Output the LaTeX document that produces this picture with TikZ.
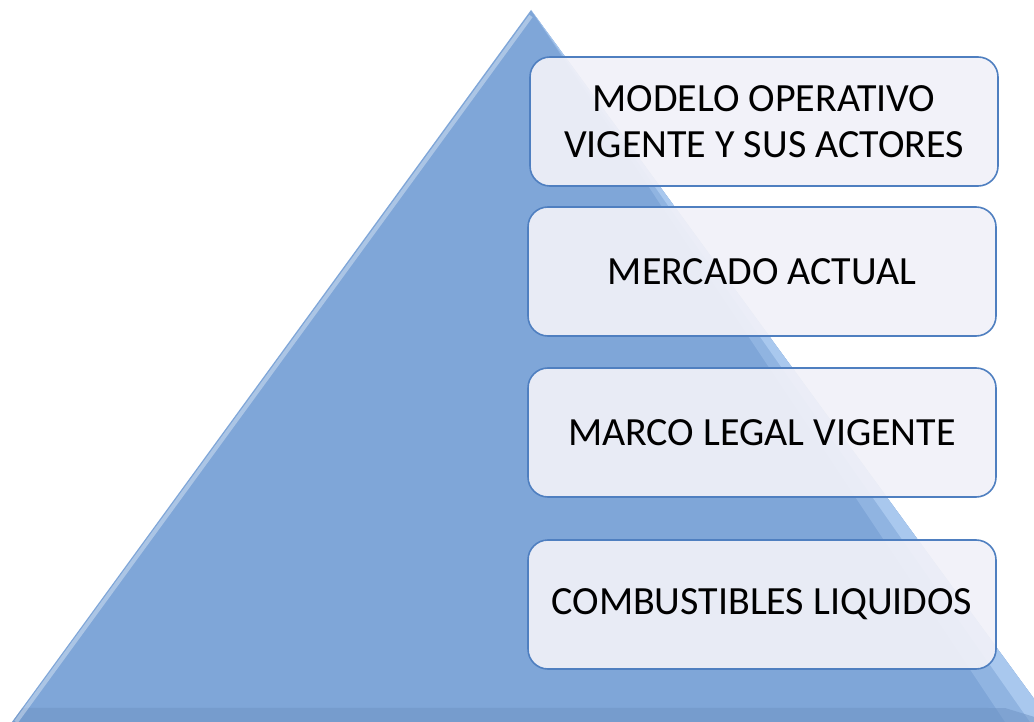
\documentclass[tikz,border=0pt]{standalone}
\usepackage{fontspec}
\setmainfont{Carlito}
\usetikzlibrary{calc}
\definecolor{piramide}{HTML}{7FA6D8}
\definecolor{piramideclaro}{HTML}{A9C8EE}
\definecolor{piramideoscuro}{HTML}{6F93C4}
\definecolor{borde}{HTML}{4F7FC0}
\definecolor{relleno}{HTML}{F1F1F8}
\tikzset{
  capa/.style={draw=borde, line width=1.6pt, fill=relleno, fill opacity=0.92, text opacity=1,
    rounded corners=20pt, minimum width=468pt, minimum height=129pt, align=center,
    font=\fontsize{40}{46}\selectfont}
}
\begin{document}
\begin{tikzpicture}[x=1pt,y=-1pt]
\useasboundingbox (0,0) rectangle (1034,722);
% piramide
\coordinate (cima) at (531,10);
\coordinate (izq) at (12,722);
\coordinate (der) at (1051,722);
\coordinate (arista) at (1005,722);
\coordinate (arista2) at (1030,722);
\fill[piramide] (cima) -- (izq) -- (der) -- cycle;
\fill[piramide!60!piramideclaro] (cima) -- (arista) -- (der) -- cycle;
\fill[piramideclaro] (cima) -- (arista2) -- (der) -- cycle;
\fill[piramideoscuro, opacity=0.5] (izq) -- ($(izq)!0.02!(cima)$) -- ([yshift=14pt]arista) -- (der) -- cycle;
\draw[white, opacity=0.35, line width=4pt] ([xshift=4pt]izq) -- ([yshift=-6pt]cima);
% capas
\node[capa] (modelo) at (764,121.5) {MODELO OPERATIVO\\VIGENTE Y SUS ACTORES};
\node[capa] (mercado) at (762,271.5) {MERCADO ACTUAL};
\node[capa] (marco) at (762,432.5) {MARCO LEGAL VIGENTE};
\node[capa] (combustibles) at (762,604.5) {COMBUSTIBLES LIQUIDOS};
\end{tikzpicture}
\end{document}
